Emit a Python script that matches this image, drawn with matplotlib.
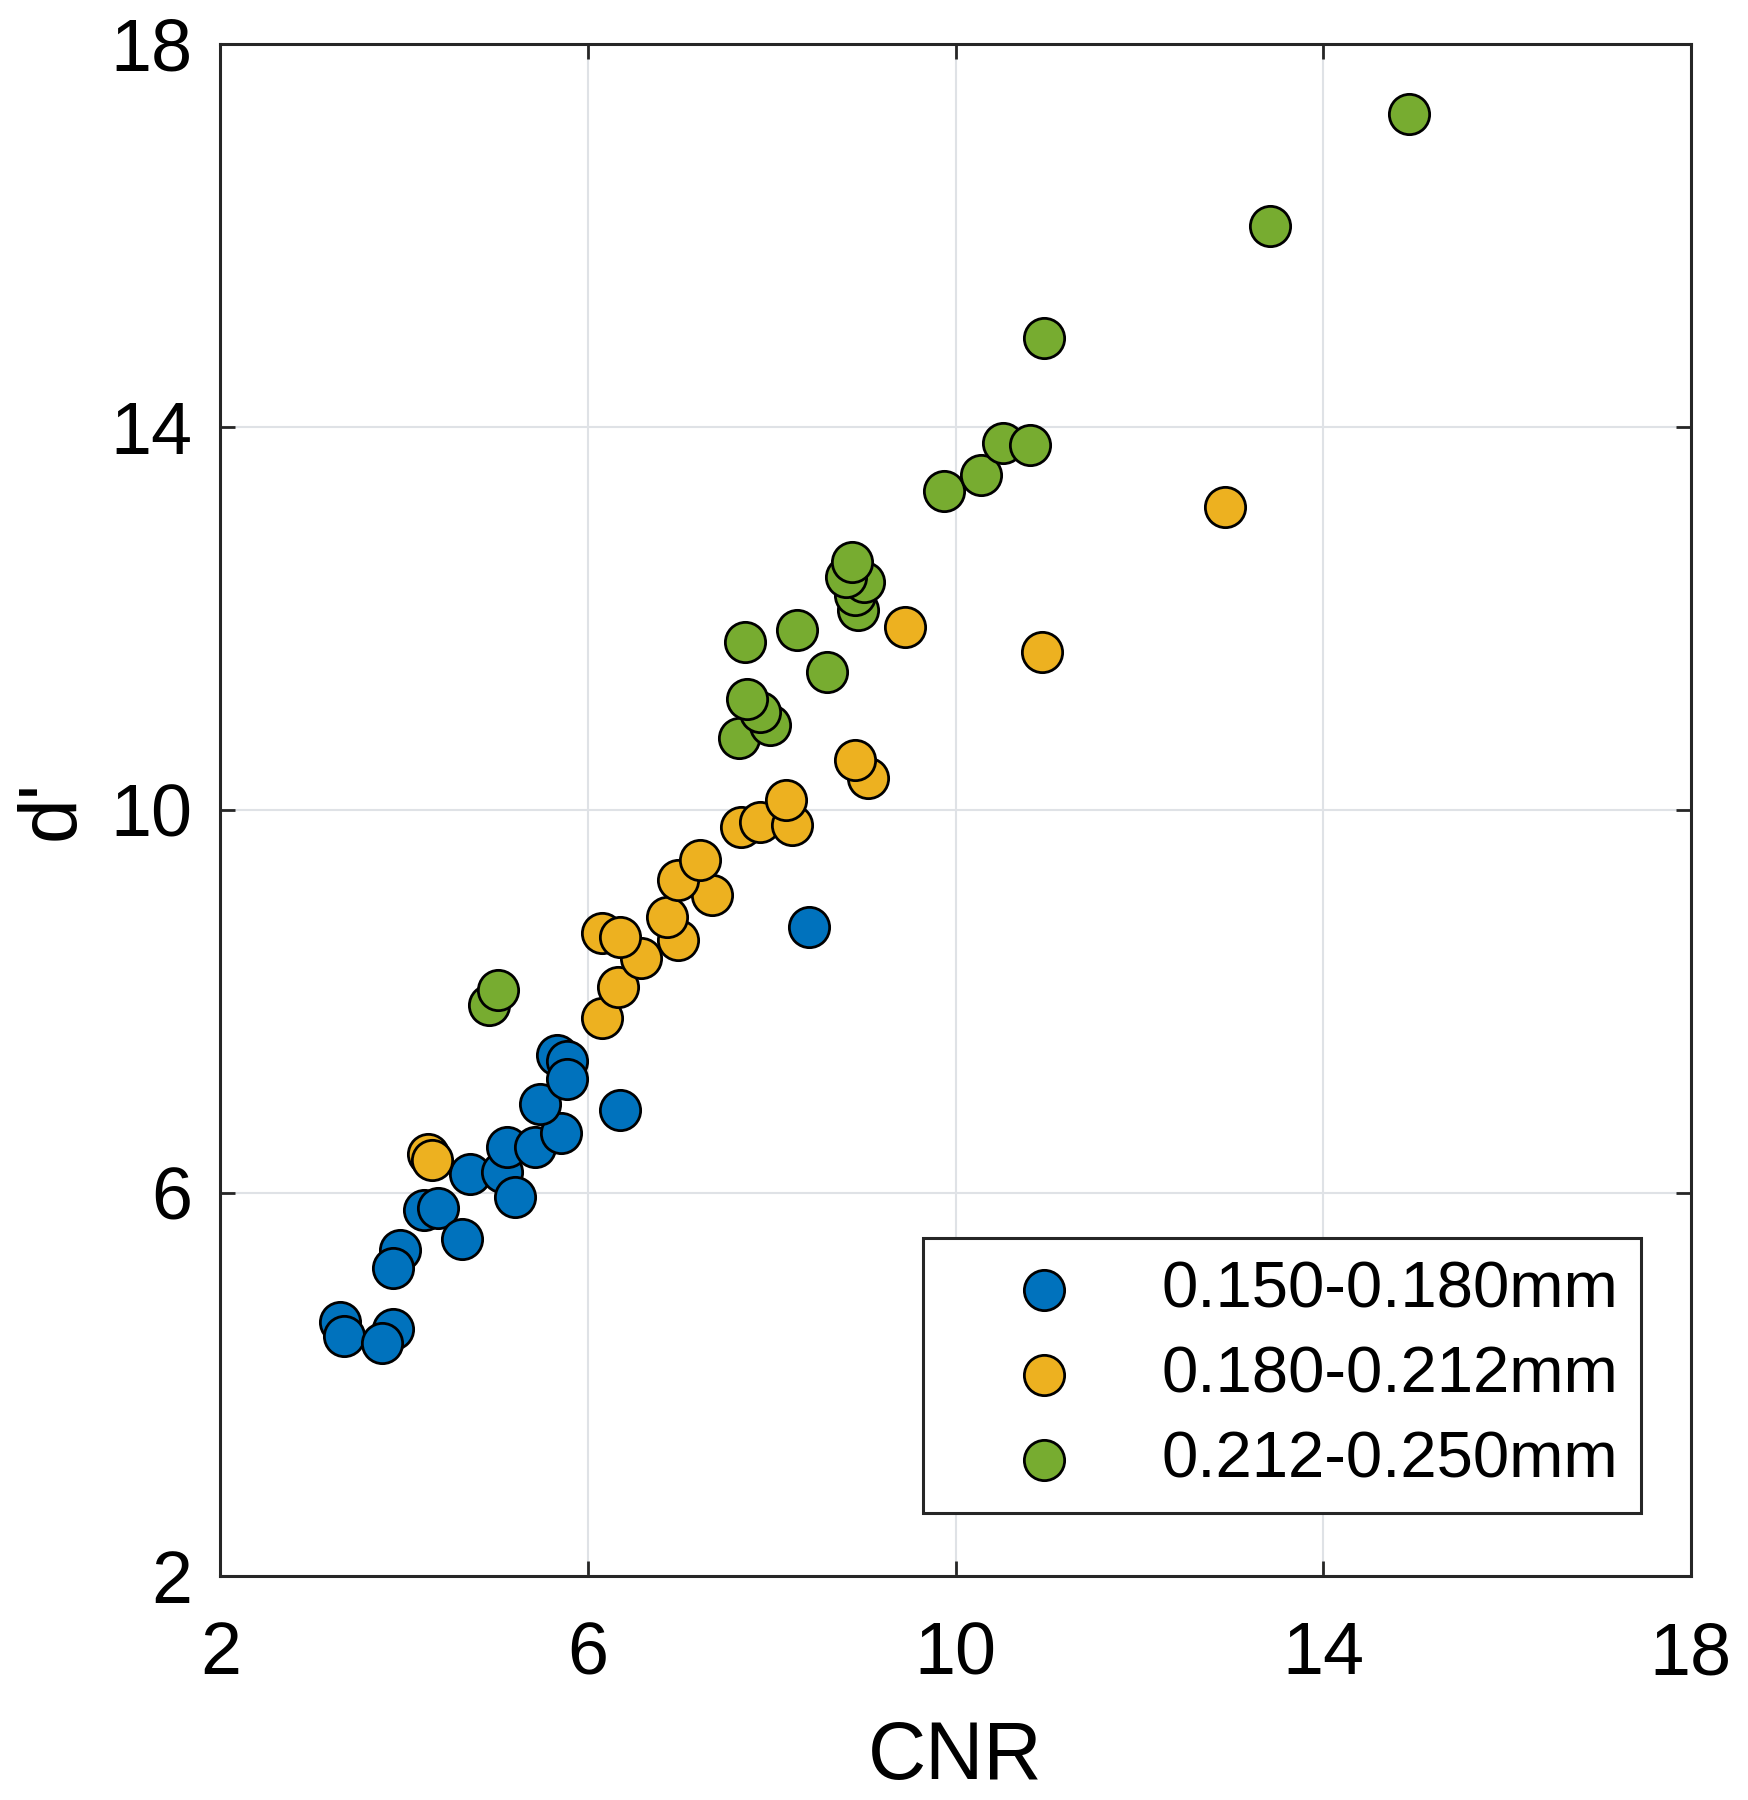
import matplotlib
matplotlib.use("Agg")
import matplotlib.pyplot as plt

plt.rcParams["font.family"] = ["Liberation Sans", "DejaVu Sans"]

# CNR vs d' for three grain-size groups
blue_x = [3.30, 3.34, 3.88, 3.76, 3.95, 3.88, 4.21, 4.37, 4.63, 4.72, 5.06,
          5.12, 5.42, 5.21, 5.71, 5.48, 5.66, 5.77, 5.77, 6.35, 8.40]
blue_y = [4.65, 4.50, 4.58, 4.43, 5.40, 5.21, 5.82, 5.84, 5.52, 6.20, 6.22,
          6.48, 6.48, 5.96, 6.62, 6.93, 7.44, 7.37, 7.19, 6.86, 8.77]

orange_x = [4.26, 4.30, 6.15, 6.33, 6.58, 6.15, 6.35, 6.98, 6.86, 7.35, 6.98,
            7.22, 7.67, 7.87, 8.22, 8.16, 9.05, 8.91, 9.45, 10.94, 12.93]
orange_y = [6.40, 6.34, 7.82, 8.15, 8.45, 8.71, 8.67, 8.64, 8.88, 9.11, 9.27,
            9.47, 9.82, 9.87, 9.84, 10.10, 10.33, 10.52, 11.91, 11.65, 13.16]

green_x = [4.92, 5.02, 7.64, 7.98, 7.87, 7.73, 8.60, 7.71, 8.27, 8.94, 8.91,
           9.00, 8.81, 8.87, 9.87, 10.28, 10.52, 10.81, 10.96, 13.42, 14.93]
green_y = [7.96, 8.12, 10.75, 10.88, 11.02, 11.16, 11.44, 11.75, 11.88, 12.09, 12.24,
           12.38, 12.43, 12.59, 13.33, 13.49, 13.83, 13.81, 14.93, 16.09, 17.26]

labels = ["0.150-0.180mm", "0.180-0.212mm", "0.212-0.250mm"]
colors = ["#0072BD", "#EDB120", "#77AC30"]
ticks = [2, 6, 10, 14, 18]

fig = plt.figure(figsize=(17.48, 18), dpi=100)
ax = fig.add_axes([0.1261, 0.1246, 0.9672 - 0.1261, 0.9758 - 0.1246])

for xs, ys, c, lab in zip([blue_x, orange_x, green_x], [blue_y, orange_y, green_y],
                          colors, labels):
    ax.scatter(xs, ys, s=841, c=c, edgecolors="black", linewidths=2,
               label=lab, zorder=3)

ax.set_xlim(2, 18)
ax.set_ylim(2, 18)
ax.set_xticks(ticks)
ax.set_yticks(ticks)
ax.grid(True, color="#DFE2E6", linewidth=1.5, zorder=0)
ax.set_axisbelow(True)

for sp in ax.spines.values():
    sp.set_color("#262626")
    sp.set_linewidth(2.2)
ax.tick_params(direction="in", length=11, width=2, colors="#262626",
               top=True, right=True, labelsize=53, labelcolor="black")
ax.tick_params(axis="x", pad=32)
ax.tick_params(axis="y", pad=20)

ax.set_xlabel("CNR", fontsize=58, labelpad=22)
ax.set_ylabel("d'", fontsize=58, labelpad=14)

leg = ax.legend(loc="lower right", bbox_to_anchor=(0.966, 0.041), borderaxespad=0,
                fontsize=47, frameon=True, fancybox=False, handlelength=3.0,
                handletextpad=0.3, borderpad=0.35, labelspacing=0.38,
                markerscale=1.0)
leg.get_frame().set_edgecolor("#262626")
leg.get_frame().set_linewidth(2.2)
leg.get_frame().set_alpha(1)

fig.savefig("out.png", dpi=100)
